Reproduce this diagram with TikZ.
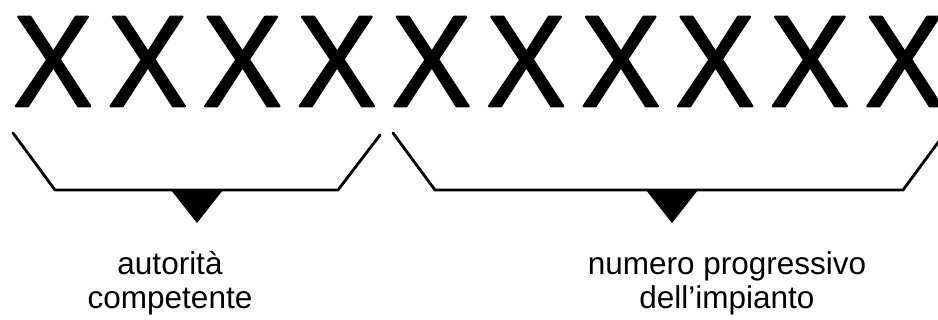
\documentclass[tikz,border=0pt]{standalone}
\usepackage{fontspec}
\setmainfont{Liberation Sans}
\newfontfamily\heavyx[FakeBold=1.6]{Liberation Sans}
\usetikzlibrary{positioning}

\begin{document}
\begin{tikzpicture}[x=1pt,y=-1pt,line cap=round,line join=round]
\useasboundingbox[fill=white] (0,0) rectangle (938,320);
\tikzset{bigx/.style={inner sep=0pt,font=\heavyx\fontsize{130}{130}\selectfont},brace/.style={draw=black,line width=2.8pt},tip/.style={fill=black},caption/.style={align=center,inner sep=0pt,font=\fontsize{31.5}{34}\selectfont}}
% row of placeholder letters
\foreach \i in {0,...,9} \node[bigx] (x\i) at ({53+94.6*\i},61.5) {\scalebox{0.92}[1]{X}};
% brackets under the two groups
\coordinate (lgrp) at (197,190); \coordinate (rgrp) at (672,190);
\draw[brace] (13,133) -- (55,190) -- (338,190) -- (380,135);
\draw[brace] (393,133) -- (435,190) -- (903,190) -- (945,133);
\fill[tip] (lgrp) ++(-26,0) -- ++(52,0) -- ++(-26,33) -- cycle;
\fill[tip] (rgrp) ++(-26,0) -- ++(52,0) -- ++(-26,33) -- cycle;
\node[caption] (autorita) at (170,283) {autorità\\competente};
\node[caption] (numero) at (727,283) {numero progressivo\\dell’impianto};
\end{tikzpicture}
\end{document}
